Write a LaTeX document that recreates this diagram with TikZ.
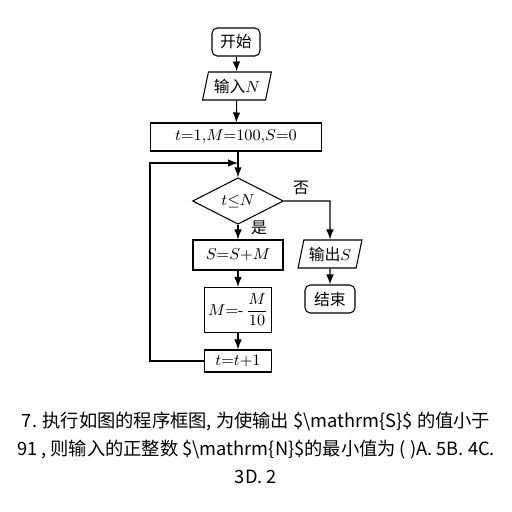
\documentclass[tikz,border=0pt]{standalone}
\usepackage{fontspec}
\usepackage{amsmath,amssymb}
\usepackage{tikz}
\usetikzlibrary{shapes.geometric,arrows.meta}
\newfontfamily\cjk{Noto Sans CJK SC}

\tikzset{
  term/.style={draw,rounded corners=3pt,inner sep=0pt,minimum width=0.96cm,minimum height=0.56cm,font=\cjk\fontsize{9}{11}\selectfont},
  iobox/.style={draw,trapezium,trapezium left angle=72,trapezium right angle=108,trapezium stretches=true,inner sep=0pt,minimum height=0.56cm,font=\cjk\fontsize{9}{11}\selectfont},
  procbox/.style={draw,inner sep=0pt,font=\fontsize{9}{11}\selectfont},
  testbox/.style={draw,diamond,inner sep=0pt,minimum width=1.82cm,minimum height=0.84cm,font=\fontsize{9}{11}\selectfont},
  lbl/.style={font=\cjk\fontsize{9}{11}\selectfont},
  flow/.style={-{Latex[length=2mm,width=1.5mm]}}
}

\begin{document}
\begin{tikzpicture}[x=0.02cm,y=-0.02cm,line width=0.6pt]
\useasboundingbox (0,0) rectangle (512,512);

\node[term] (start) at (236,42) {开始};
\node[iobox,minimum width=1.38cm] (input) at (237,86) {输入$N$};
\node[procbox,minimum width=3.42cm,minimum height=0.56cm] (init) at (236,137) {$t{=}1{,}M{=}100{,}S{=}0$};

\node[testbox] (test) at (238,201) {$t{\leq}N$};
\node[procbox,minimum width=1.8cm,minimum height=0.6cm] (sum) at (238,255) {$S{=}S{+}M$};
\node[procbox,minimum width=1.34cm,minimum height=0.9cm] (upd) at (238,310) {$M{=}\text{-}\,\dfrac{M}{10}$};
\node[procbox,minimum width=1.34cm,minimum height=0.44cm] (inc) at (238,361) {$t{=}t{+}1$};

\node[iobox,minimum width=1.28cm] (output) at (330,254) {输出$S$};
\node[term,minimum width=1.0cm] (stop) at (330,299) {结束};

\node[lbl] (yes) at (259,228) {是};
\node[lbl] (no) at (301,188) {否};

\coordinate (join) at (238,163);
\coordinate (loopB) at (150,361);
\coordinate (loopT) at (150,163);
\coordinate (noC) at (330,201);

\path [flow] (start) edge (input);
\path [flow] (input) edge (init);
\path [flow] (init.south -| test.north) edge (test);
\path [flow] (test) edge (sum);
\path [flow] (sum) edge (upd);
\path [flow] (upd) edge (inc);
\draw [flow] (inc.west) -- (loopB) -- (loopT) -- (join);
\draw [flow] (test.east) -- (noC) -- (output.north);
\path [flow] (output) edge (stop);

\node[font=\cjk\fontsize{10.4}{15.9}\selectfont,align=center] (question) at (256,448)
  {7. 执行如图的程序框图, 为使输出 \$\textbackslash mathrm\{S\}\$ 的值小于\\
   91 , 则输入的正整数 \$\textbackslash mathrm\{N\}\$的最小值为 ( )A. 5B. 4C.\\
   3D. 2};
\end{tikzpicture}
\end{document}
